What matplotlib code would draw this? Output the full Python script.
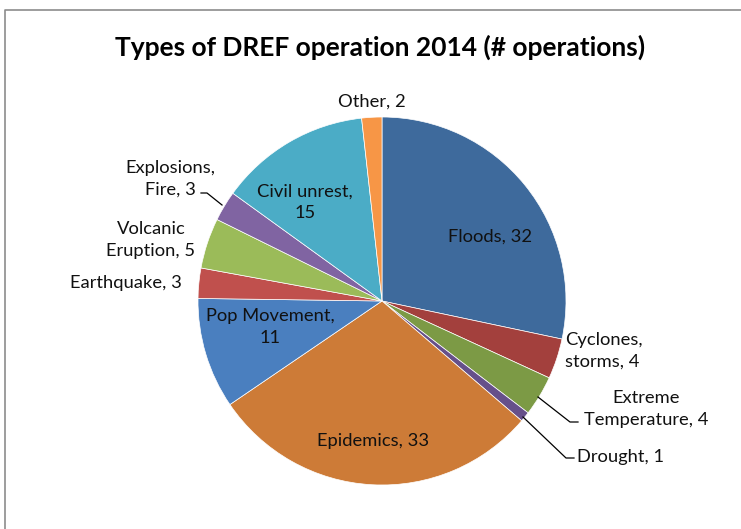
import matplotlib
matplotlib.use("Agg")
import matplotlib.pyplot as plt

categories = ["Floods", "Cyclones, storms", "Extreme Temperature", "Drought", "Epidemics",
              "Pop Movement", "Earthquake", "Volcanic Eruption", "Explosions, Fire",
              "Civil unrest", "Other"]
values = [32, 4, 4, 1, 33, 11, 3, 5, 3, 15, 2]
colors = ["#3E6A9C", "#A3403D", "#7C9A45", "#66508A", "#CD7B37", "#4A7FBF",
          "#C0504D", "#9BBB59", "#8064A2", "#4BACC6", "#F79646"]
title = "Types of DREF operation 2014 (# operations)"

plt.rcParams['font.family'] = ['Lato', 'DejaVu Sans']

W, H = 741, 529
fig = plt.figure(figsize=(W / 100, H / 100), dpi=100)
ax = fig.add_axes([0, 0, 1, 1])

cx, cy, R = 382, H - 301, 184
ax.pie(values, colors=colors, startangle=90, counterclock=False, center=(cx, cy), radius=R,
       wedgeprops=dict(edgecolor="white", linewidth=0.5), frame=True)
ax.set_xlim(0, W)
ax.set_ylim(0, H)
ax.set_aspect('equal')
ax.axis('off')

# chart frame
ax.plot([5, 5, W + 5], [-5, H - 10, H - 10], color="#8C8C8C", lw=1.2, clip_on=False)

ax.text(380, H - 47, title, ha='center', va='center', fontsize=19, fontweight='bold')

fs = 13.2
def lab(x, y, s, ha='center'):
    ax.text(x, H - y, s, ha=ha, va='center', fontsize=fs, linespacing=1.4, color="#111111")

lab(372, 102, "Other, 2")
lab(490, 237, "Floods, 32")
lab(565, 351, "Cyclones,\nstorms, 4", ha='left')
lab(646, 409, "Extreme\nTemperature, 4")
lab(577, 457, "Drought, 1", ha='left')
lab(373, 441, "Epidemics, 33")
lab(270, 327, "Pop Movement,\n11")
lab(126, 283, "Earthquake, 3")
lab(151, 240, "Volcanic\nEruption, 5")
lab(170, 179, "Explosions,\nFire, 3")
lab(305, 202, "Civil unrest,\n15")

def leader(pts):
    ax.plot([p[0] for p in pts], [H - p[1] for p in pts], color="black", lw=0.9)

leader([(201, 193), (207, 193), (222, 205)])
leader([(538, 397), (570, 422), (578, 422)])
leader([(523, 417), (566, 458), (574, 458)])

fig.savefig("out.png", dpi=100)
